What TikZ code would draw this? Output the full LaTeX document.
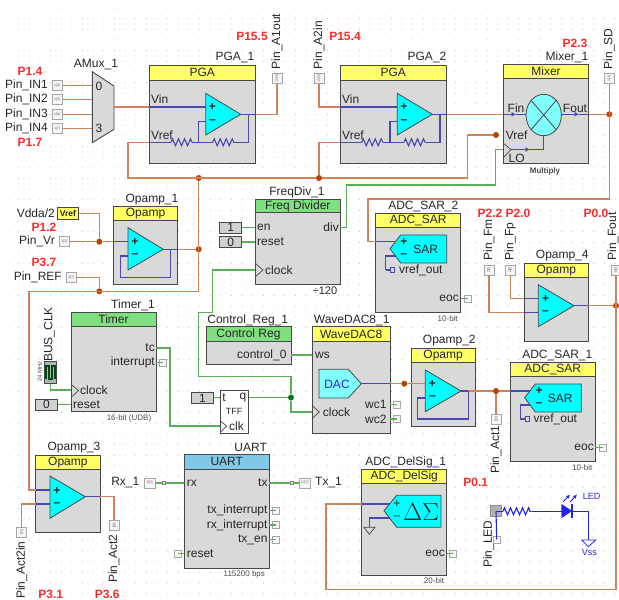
\documentclass[tikz,border=0pt]{standalone}
\usepackage{fontspec}
\setmainfont{Liberation Sans}
\usetikzlibrary{arrows.meta,decorations.pathmorphing,shapes.geometric}
\definecolor{wireorange}{HTML}{D0825A}
\definecolor{wireblue}{HTML}{4A4AAE}
\definecolor{wiregreen}{HTML}{5CAD5C}
\definecolor{bodygray}{HTML}{D9D9D9}
\definecolor{edgegray}{HTML}{484848}
\definecolor{headyellow}{HTML}{FFFF66}
\definecolor{headgreen}{HTML}{80E080}
\definecolor{headblue}{HTML}{80C8E8}
\definecolor{symcyan}{HTML}{00FFFF}
\definecolor{lightcyan}{HTML}{80FFFF}
\definecolor{pinred}{HTML}{FF2A2A}
\definecolor{dotred}{HTML}{B84000}
\definecolor{dotgreen}{HTML}{007A1E}
\definecolor{ledblue}{HTML}{2424E6}
\begin{document}
\begin{tikzpicture}[x=1pt,y=-1pt,font=\fontsize{12}{14}\selectfont,
  every node/.style={inner sep=0,text=black!85},
  wh/.style 2 args={minimum width=#1,minimum height=#2},
  body/.style={draw=edgegray,fill=bodygray,line width=1pt,outer sep=0,anchor=north west},
  yhead/.style={body,fill=headyellow},
  ghead/.style={body,fill=headgreen},
  bhead/.style={body,fill=headblue},
  owire/.style={draw=wireorange,line width=1.1pt},
  bwire/.style={draw=wireblue,line width=1.1pt},
  gwire/.style={draw=wiregreen,line width=1.1pt},
  resistor/.style={bwire,decorate,decoration={zigzag,amplitude=3.5,segment length=6}},
  sym/.style={draw=edgegray,fill=symcyan,line width=.8pt},
  clk/.style={draw=edgegray,line width=.7pt},
  jdot/.style={circle,fill=dotred,minimum size=6},
  gdot/.style={circle,fill=dotgreen,minimum size=6},
  pinbox/.style={draw=black!35,fill=black!4,line width=.7pt,minimum size=10,font=\fontsize{3.5}{4}\selectfont,text=black!60},
  ncbox/.style={draw=black!35,fill=black!3,line width=.6pt,minimum size=7},
  tick/.style={draw=black!50,fill=black!10,line width=.4pt,minimum size=3},
  logic/.style={draw=edgegray,fill=black!18,line width=1pt,wh={21.5}{11}},
  tag/.style={font=\fontsize{12}{14}\selectfont\bfseries,text=pinred},
  small/.style={font=\fontsize{8}{9}\selectfont,text=black!70},
  rot/.style={rotate=90,anchor=west},
  griddot/.style={fill=black!30}]
\useasboundingbox (0,0) rectangle (619,600);
\foreach \i in {0,...,57}
  \foreach \j in {0,...,55}
    \fill[griddot] (8+\i*10.65,8+\j*10.65) circle (.5);

\node[body,wh={106.5}{98}] (pga1) at (149,65.5) {};
\node[yhead,wh={106.5}{14.5}] (pga1h) at (149,65.5) {PGA};
\node[body,wh={106.5}{98}] (pga2) at (340,65.5) {};
\node[yhead,wh={106.5}{14.5}] (pga2h) at (340,65.5) {PGA};
\node[body,wh={85.5}{99.5}] (mix) at (503.3,64.3) {};
\node[yhead,wh={85.5}{14.5}] (mixh) at (503.3,64.3) {Mixer};
\node[body,wh={64.5}{78}] (op1) at (113.3,206.7) {};
\node[yhead,wh={64.5}{14}] (op1h) at (113.3,206.7) {Opamp};
\node[body,wh={85}{85.5}] (fd) at (255.3,199.3) {};
\node[ghead,wh={85}{13.5}] (fdh) at (255.3,199.3) {Freq Divider};
\node[body,wh={85}{99}] (sar2) at (375.7,213.3) {};
\node[yhead,wh={85}{14.5}] (sar2h) at (375.7,213.3) {ADC\_SAR};
\node[body,wh={64}{78}] (op4) at (524.3,263.3) {};
\node[yhead,wh={64}{14}] (op4h) at (524.3,263.3) {Opamp};
\node[body,wh={85}{99}] (tm) at (71,312.7) {};
\node[ghead,wh={85}{14}] (tmh) at (71,312.7) {Timer};
\node[body,wh={85}{38}] (cr) at (206,326.7) {};
\node[ghead,wh={85}{14.5}] (crh) at (206,326.7) {Control Reg};
\node[body,wh={78.3}{106.6}] (wd) at (312,326.7) {};
\node[yhead,wh={78.3}{14.6}] (wdh) at (312,326.7) {WaveDAC8};
\node[body,wh={64.3}{78}] (op2) at (411,348.3) {};
\node[yhead,wh={64.3}{14.4}] (op2h) at (411,348.3) {Opamp};
\node[body,wh={85}{99.4}] (sar1) at (510.3,362.3) {};
\node[yhead,wh={85}{14.4}] (sar1h) at (510.3,362.3) {ADC\_SAR};
\node[body,wh={64.3}{77.7}] (op3) at (35.7,455) {};
\node[yhead,wh={64.3}{14.3}] (op3h) at (35.7,455) {Opamp};
\node[body,wh={85}{113.3}] (ua) at (184.3,454.7) {};
\node[bhead,wh={85}{14.3}] (uah) at (184.3,454.7) {UART};
\node[body,wh={85}{106.3}] (ds) at (361.7,469) {};
\node[yhead,wh={85}{14}] (dsh) at (361.7,469) {ADC\_DelSig};
\node[body,fill=white,wh={28.7}{42.6}] (tff) at (220,390.7) {};

\node (pga1t) at (235,58) {PGA\_1};
\node (pga2t) at (427,58) {PGA\_2};
\node (mixt) at (567,57) {Mixer\_1};
\node (muxt) at (96,64.7) {AMux\_1};
\node (op1t) at (152,199.5) {Opamp\_1};
\node (fdt) at (297,192) {FreqDiv\_1};
\node (sar2t) at (423.3,206) {ADC\_SAR\_2};
\node (op4t) at (562.3,256) {Opamp\_4};
\node (tmt) at (133,305) {Timer\_1};
\node (crt) at (247.7,320) {Control\_Reg\_1};
\node (wdt) at (351.7,320) {WaveDAC8\_1};
\node (op2t) at (449.3,341) {Opamp\_2};
\node (sar1t) at (557.3,355) {ADC\_SAR\_1};
\node (op3t) at (74,447.3) {Opamp\_3};
\node (uat) at (250.7,447.5) {UART};
\node (dst) at (405.7,462) {ADC\_DelSig\_1};

\node[tag] (tagA) at (30,71) {P1.4};
\node[tag] (tagB) at (30,142) {P1.7};
\node[tag] (tagC) at (252,36) {P15.5};
\node[tag] (tagD) at (345,36) {P15.4};
\node[tag] (tagE) at (575,43) {P2.3};
\node[tag] (tagF) at (44,227) {P1.2};
\node[tag] (tagG) at (44,262.7) {P3.7};
\node[tag] (tagH) at (490,213) {P2.2};
\node[tag] (tagI) at (518,213) {P2.0};
\node[tag] (tagJ) at (596,213) {P0.0};
\node[tag] (tagK) at (475.7,482.7) {P0.1};
\node[tag] (tagL) at (50.7,594) {P3.1};
\node[tag] (tagM) at (107.3,594) {P3.6};

\node[pinbox] (pinINa) at (57,85.3) {1[4]};
\node[pinbox] (pinINb) at (57,99.7) {1[5]};
\node[pinbox] (pinINc) at (57,114.3) {1[6]};
\node[pinbox] (pinINd) at (57,128.3) {1[7]};
\node[anchor=east] (lblINa) at (48,85.3) {Pin\_IN1};
\node[anchor=east] (lblINb) at (48,99.7) {Pin\_IN2};
\node[anchor=east] (lblINc) at (48,114.3) {Pin\_IN3};
\node[anchor=east] (lblINd) at (48,128.3) {Pin\_IN4};
\node[pinbox,rotate=90] (pinAout) at (277,78.7) {15[5]};
\node[rot] (lblAout) at (277,69.5) {Pin\_A1out};
\node[pinbox,rotate=90] (pinAin) at (319,78.7) {15[4]};
\node[rot] (lblAin) at (319,69.5) {Pin\_A2in};
\node[pinbox,rotate=90] (pinSD) at (609.3,78.7) {2[3]};
\node[rot] (lblSD) at (609.3,69.5) {Pin\_SD};
\node[pinbox] (pinVr) at (64.3,241.7) {1[2]};
\node[anchor=east] (lblVr) at (55,241.7) {Pin\_Vr};
\node[pinbox] (pinREF) at (71,277.3) {3[7]};
\node[anchor=east] (lblREF) at (62,277.3) {Pin\_REF};
\node[draw=edgegray,fill=headyellow,line width=1pt,wh={21.5}{11.5},font=\fontsize{8.5}{9}\selectfont\bfseries] (vrefbox) at (68,213.5) {Vref};
\node[anchor=east] (lblVdda) at (55,213.5) {Vdda/2};
\node[pinbox,rotate=90] (pinFm) at (489,270) {2[2]};
\node[rot] (lblFm) at (489,260.7) {Pin\_Fm};
\node[pinbox,rotate=90] (pinFp) at (510.3,270) {2[0]};
\node[rot] (lblFp) at (510.3,260.7) {Pin\_Fp};
\node[pinbox,rotate=90] (pinFout) at (616,270) {0[0]};
\node[rot] (lblFout) at (613,260.7) {Pin\_Fout};
\node[pinbox,rotate=-90] (pinActa) at (496,419) {0[1]};
\node[rot] (lblActa) at (496,474) {Pin\_Act1};
\node[pinbox,rotate=90] (pinActb) at (21.7,532.7) {3[1]};
\node[rot] (lblActb) at (21.7,599) {Pin\_Act2in};
\node[pinbox,rotate=-90] (pinActc) at (114,525) {3[6]};
\node[rot] (lblActc) at (114,583) {Pin\_Act2};
\node[pinbox,wh={11}{10}] (pinRx) at (149.7,483) {1[0]};
\node[anchor=east] (lblRx) at (139.5,483) {Rx\_1};
\node[pinbox,wh={11}{10}] (pinTx) at (304.7,483) {12[7]};
\node[anchor=west] (lblTx) at (315,483) {Tx\_1};
\node[pinbox,fill=black!30,draw=black!45,minimum size=11] (pinLED) at (496,511.3) {};
\node[rot] (lblLED) at (488.7,568) {Pin\_LED};
\node[ncbox] (pinLEDb) at (496.7,539.3) {};

\node[logic] (oneA) at (230.7,227.6) {1};
\node[logic] (zeroA) at (230.7,242) {0};
\node[logic] (oneB) at (202.5,398) {1};
\node[logic] (zeroB) at (46.5,404.7) {0};
\node[draw=edgegray,fill=black!30,line width=1pt,wh={12.5}{21.5}] (clkbox) at (50.5,372.5) {};
\node[rot,anchor=west] (lblBus) at (49.5,362) {BUS\_CLK};
\node[rot,font=\fontsize{6}{7}\selectfont,text=black!70] (lblMHz) at (39.7,382) {24 MHz};
\draw[draw=dotgreen!60!black,line width=1.2pt] (46,379) -- (46,366) -- (49,366) -- (49,379) -- (52,379) -- (52,366) -- (55,366) -- (55,379);

\node[ncbox] (ncInt) at (163,362.3) {};
\node[ncbox] (ncEocB) at (468,298.7) {};
\node[ncbox] (ncWa) at (397,404.7) {};
\node[ncbox] (ncWb) at (397,419) {};
\node[ncbox] (ncEocA) at (602.6,447.7) {};
\node[ncbox] (ncEocC) at (453,553.7) {};
\node[ncbox] (ncTi) at (276,510.7) {};
\node[ncbox] (ncRi) at (276,525) {};
\node[ncbox] (ncTe) at (276,539.7) {};
\node[ncbox] (ncRst) at (177.7,553.7) {};

\coordinate (muxa) at (92.3,85.3);
\coordinate (muxb) at (92.3,99.7);
\coordinate (muxc) at (92.3,114.3);
\coordinate (muxd) at (92.3,128.3);
\coordinate (muxout) at (114,107);
\coordinate (pgaAvin) at (149,107);
\coordinate (pgaAp) at (205.7,107);
\coordinate (pgaAx) at (240.7,114.3);
\coordinate (pgaAo) at (255.5,114.3);
\coordinate (pgaAf) at (248.7,114.3);
\coordinate (pgaAvr) at (149,142.3);
\coordinate (pgaAra) at (171,142.3);
\coordinate (pgaArb) at (192,142.3);
\coordinate (pgaAj) at (198.3,142.3);
\coordinate (pgaArc) at (212.7,142.3);
\coordinate (pgaArd) at (234.3,142.3);
\coordinate (pgaAm) at (205.7,121.3);
\coordinate (pgaBvin) at (340,107);
\coordinate (pgaBp) at (397.3,107);
\coordinate (pgaBx) at (432.3,114.3);
\coordinate (pgaBo) at (446.7,114.3);
\coordinate (pgaBf) at (440,114.3);
\coordinate (pgaBvr) at (340,142.3);
\coordinate (pgaBra) at (361.7,142.3);
\coordinate (pgaBrb) at (382.7,142.3);
\coordinate (pgaBj) at (390,142.3);
\coordinate (pgaBrc) at (404,142.3);
\coordinate (pgaBrd) at (425.7,142.3);
\coordinate (pgaBm) at (397.3,121.3);
\coordinate (mixin) at (503.3,114.3);
\coordinate (mixfa) at (516,114.3);
\coordinate (mixfb) at (526,114.3);
\coordinate (mixout) at (588.7,114.3);
\coordinate (mixoa) at (579,114.3);
\coordinate (mixob) at (561.4,114.3);
\coordinate (mixlo) at (503.3,149.5);
\coordinate (mixla) at (511,149.5);
\coordinate (mixlb) at (530,149.5);
\coordinate (mixlc) at (543.7,149.5);
\coordinate (mixld) at (543.7,135.7);
\coordinate (busA) at (128,178);
\coordinate (busB) at (467.7,135);
\coordinate (busF) at (609.3,199);
\coordinate (busG) at (368,199);
\coordinate (sarBin) at (375.7,241.7);
\coordinate (sarBp) at (395,241.7);
\coordinate (sarBm) at (396.7,256);
\coordinate (sarBc) at (385.7,270);
\coordinate (opAin) at (113.3,241.7);
\coordinate (opAp) at (128,241.7);
\coordinate (opAx) at (163.3,249.3);
\coordinate (opAf) at (170.7,249.3);
\coordinate (opAo) at (177.7,249.3);
\coordinate (opAg) at (120.7,277.3);
\coordinate (opAm) at (128,256);
\coordinate (busH) at (198.7,291.3);
\coordinate (busI) at (29,291.3);
\coordinate (opCpin) at (35.7,490);
\coordinate (opCp) at (50,490);
\coordinate (opCmin) at (35.7,504);
\coordinate (opCm) at (50,504);
\coordinate (opCx) at (85.3,496.7);
\coordinate (opCo) at (100,496.7);
\coordinate (opDx) at (574,305.7);
\coordinate (opDo) at (588.3,305.7);
\coordinate (opDpin) at (524.3,298.7);
\coordinate (opDp) at (538.3,298.7);
\coordinate (opDmin) at (524.3,312.7);
\coordinate (opDm) at (538.3,312.7);
\coordinate (busJ) at (616,589.3);
\coordinate (busK) at (326,589.3);
\coordinate (dsin) at (361.7,504);
\coordinate (dsp) at (390,504);
\coordinate (dsm) at (390.7,518);
\coordinate (dsg) at (369.3,527.3);
\coordinate (dacout) at (361.3,383.7);
\coordinate (wdo) at (390.3,383.7);
\coordinate (opBp) at (425.3,383.7);
\coordinate (opBx) at (461,391);
\coordinate (opBf) at (468.3,391);
\coordinate (opBg) at (417.7,419);
\coordinate (opBm) at (425.3,398);
\coordinate (sarAin) at (510.3,391);
\coordinate (sarAp) at (530,391);
\coordinate (sarAm) at (531.3,405);
\coordinate (sarAc) at (520.3,419);
\coordinate (fddiv) at (340.3,227.3);
\coordinate (gA) at (346.7,185);
\coordinate (gB) at (495.7,185);
\coordinate (fden) at (255.3,227.6);
\coordinate (fdrst) at (255.3,242);
\coordinate (fdclk) at (255.3,270);
\coordinate (gC) at (212.7,312.3);
\coordinate (gD) at (198.3,376.7);
\coordinate (tffq) at (248.7,397.5);
\coordinate (tfft) at (220,397.5);
\coordinate (tffclk) at (220,426);
\coordinate (wdclk) at (312,412);
\coordinate (wdws) at (312,355);
\coordinate (crout) at (291,355);
\coordinate (tmtc) at (156,348);
\coordinate (tmint) at (156,362.3);
\coordinate (tmclk) at (71,390);
\coordinate (tmrst) at (71,404.7);
\coordinate (gE) at (170,426);
\coordinate (uarx) at (184.3,483);
\coordinate (uatx) at (269.3,483);
\coordinate (uati) at (269.3,510.7);
\coordinate (uari) at (269.3,525);
\coordinate (uate) at (269.3,539.7);
\coordinate (uarst) at (184.3,553.7);
\coordinate (sarBeoc) at (460.7,298.7);
\coordinate (sarAeoc) at (595.3,447.7);
\coordinate (dseoc) at (446.7,553.7);
\coordinate (wdwa) at (390.3,404.7);
\coordinate (wdwb) at (390.3,419);
\coordinate (lra) at (503,511.3);
\coordinate (lrb) at (531.7,511.3);
\coordinate (lda) at (561.7,511.3);
\coordinate (ldk) at (572,511.3);
\coordinate (lvss) at (588.3,540);

\node[jdot] (jA) at (198.7,178) {};
\node[jdot] (jB) at (319,178) {};
\node[jdot] (jC) at (496,135) {};
\node[jdot] (jD) at (609.3,114.3) {};
\node[jdot] (jE) at (99.3,241.7) {};
\node[jdot] (jF) at (198.7,249.3) {};
\node[jdot] (jG) at (99.3,291.3) {};
\node[jdot] (jH) at (616,305.7) {};
\node[jdot] (jI) at (404.3,383.7) {};
\node[jdot] (jJ) at (496,391) {};
\node[gdot] (jK) at (291,397.5) {};

\draw[draw=edgegray,fill=bodygray,line width=.9pt] (92.3,71.7) -- (114,86) -- (114,129.3) -- (92.3,142.7) -- cycle;
\node (muxn) at (99,86.5) {0};
\node (muxm) at (99,128) {3};

\draw[owire] (pinINa) -- (muxa);
\draw[owire] (pinINb) -- (muxb);
\draw[owire] (pinINc) -- (muxc);
\draw[owire] (pinINd) -- (muxd);
\draw[owire] (muxout) -- (pgaAvin);
\draw[owire] (pgaAo) -| (pinAout);
\draw[owire] (pgaAvr) -| (busA) -- (jB) -| (busB) -- (jC);
\draw[owire] (pinAin) |- (pgaBvin);
\draw[owire] (jB) |- (pgaBvr);
\draw[owire] (pgaBo) -- (mixin);
\draw[owire] (mixout) -- (jD);
\draw[owire] (pinSD) -- (busF) -- (busG) |- (sarBin);
\draw[owire] (pinVr) -- (jE) -- (opAin);
\draw[owire] (vrefbox) -| (jE);
\draw[owire] (opAo) -- (jF);
\draw[owire] (jA) -- (busH) -- (busI) |- (opCpin);
\draw[owire] (pinREF) -| (jG);
\draw[owire] (pinActb) |- (opCmin);
\draw[owire] (opCo) -| (pinActc);
\draw[owire] (pinFp) |- (opDpin);
\draw[owire] (pinFm) |- (opDmin);
\draw[owire] (opDo) -- (jH);
\draw[owire] (pinFout) -- (busJ) -- (busK) |- (dsin);
\draw[owire] (wdo) -- (jI) -- (opBp);
\draw[owire] (opBf) -- (jJ) -- (sarAin);
\draw[owire] (pinActa) -- (jJ);

\draw[bwire] (pgaAvin) -- (pgaAp);
\draw[bwire] (pgaAx) -- (pgaAo);
\draw[bwire] (pgaAvr) -- (pgaAra);
\draw[resistor] (pgaAra) -- (pgaArb);
\draw[bwire] (pgaArb) -- (pgaArc);
\draw[resistor] (pgaArc) -- (pgaArd);
\draw[bwire] (pgaArd) -| (pgaAf);
\draw[bwire] (pgaAj) |- (pgaAm);
\draw[bwire] (pgaBvin) -- (pgaBp);
\draw[bwire] (pgaBx) -- (pgaBo);
\draw[bwire] (pgaBvr) -- (pgaBra);
\draw[resistor] (pgaBra) -- (pgaBrb);
\draw[bwire] (pgaBrb) -- (pgaBrc);
\draw[resistor] (pgaBrc) -- (pgaBrd);
\draw[bwire] (pgaBrd) -| (pgaBf);
\draw[bwire] (pgaBj) |- (pgaBm);
\draw[bwire,-{Latex[length=4.5,width=5]}] (mixin) -- (mixfa);
\draw[bwire] (mixfa) -- (mixfb);
\draw[bwire,-{Latex[length=4.5,width=5]}] (mixob) -- (mixoa);
\draw[bwire] (mixoa) -- (mixout);
\draw[bwire,-{Latex[length=4.5,width=5]}] (mixla) -- (mixlb);
\draw[bwire] (mixlb) -- (mixlc) -- (mixld);
\draw[bwire] (sarBin) -- (sarBp);
\draw[bwire] (sarBm) -| (sarBc);
\node[draw=wireblue,line width=1pt,minimum size=4.5] (sarBv) at (392.7,270) {};
\draw[bwire] (sarBc) -- (sarBv);
\draw[bwire] (opAin) -- (opAp);
\draw[bwire] (opAx) -- (opAo);
\draw[bwire] (opAf) |- (opAg) |- (opAm);
\draw[bwire] (opCpin) -- (opCp);
\draw[bwire] (opCmin) -- (opCm);
\draw[bwire] (opCx) -- (opCo);
\draw[bwire] (opDpin) -- (opDp);
\draw[bwire] (opDmin) -- (opDm);
\draw[bwire] (opDx) -- (opDo);
\draw[bwire] (dsin) -- (dsp);
\draw[bwire] (dsm) -| (dsg);
\draw[bwire] (dacout) -- (wdo);
\draw[bwire] (opBx) -- (opBf);
\draw[bwire] (opBf) |- (opBg) |- (opBm);
\draw[bwire] (sarAin) -- (sarAp);
\draw[bwire] (sarAm) -| (sarAc);
\node[draw=wireblue,line width=1pt,minimum size=4.5] (sarAv) at (527.3,419) {};
\draw[bwire] (sarAc) -- (sarAv);

\draw[gwire] (fddiv) -| (gA) -- (gB) |- (mixlo);
\draw[gwire] (oneA) -- (fden);
\draw[gwire] (zeroA) -- (fdrst);
\draw[gwire] (fdclk) -| (gC) -| (gD) -| (jK);
\draw[gwire] (jK) |- (wdclk);
\draw[gwire] (tffq) -- (jK);
\draw[gwire] (oneB) -- (tfft);
\draw[gwire] (tmtc) -| (gE) -- (tffclk);
\draw[gwire] (crout) -- (wdws);
\draw[gwire] (clkbox) |- (tmclk);
\draw[gwire] (zeroB) -- (tmrst);
\draw[gwire] (pinRx) -- (uarx);
\draw[gwire] (uatx) -- (pinTx);
\draw[gwire] (tmint) -- (ncInt.center);
\draw[gwire] (sarBeoc) -- (ncEocB.center);
\draw[gwire] (sarAeoc) -- (ncEocA.center);
\draw[gwire] (dseoc) -- (ncEocC.center);
\draw[gwire] (wdwa) -- (ncWa.center);
\draw[gwire] (wdwb) -- (ncWb.center);
\draw[gwire] (uati) -- (ncTi.center);
\draw[gwire] (uari) -- (ncRi.center);
\draw[gwire] (uate) -- (ncTe.center);
\draw[gwire] (uarst) -- (ncRst.center);
\node[tick] (tickRx) at (164,483) {};
\node[tick] (tickTx) at (291.7,483) {};

\draw[sym] (205.7,93.3) -- (205.7,135) -- (240.7,114.3) -- cycle;
\draw[sym] (397.3,93.3) -- (397.3,135) -- (432.3,114.3) -- cycle;
\draw[sym] (128,227.7) -- (128,270) -- (163.3,249.3) -- cycle;
\draw[sym] (538.3,284.7) -- (538.3,326.7) -- (574,305.7) -- cycle;
\draw[sym] (425.3,370) -- (425.3,411.7) -- (461,391) -- cycle;
\draw[sym] (50,476) -- (50,518.3) -- (85.3,496.7) -- cycle;
\draw[sym] (390,248.7) -- (400.7,235) -- (446.7,235) -- (446.7,263) -- (400.7,263) -- cycle;
\draw[sym] (524.6,397.7) -- (535.3,384) -- (581.3,384) -- (581.3,412) -- (535.3,412) -- cycle;
\draw[sym] (384,510.7) -- (396.7,495.3) -- (441,495.3) -- (441,527.3) -- (396.7,527.3) -- cycle;
\draw[sym,fill=lightcyan] (319,369.3) -- (348.3,369.3) -- (361.3,383.7) -- (348.3,398) -- (319,398) -- cycle;
\node[draw=edgegray,fill=lightcyan,line width=.8pt,ellipse,minimum width=35.4,minimum height=41.4] (mixc) at (543.7,115) {};
\draw[draw=edgegray,line width=.8pt] (mixc.north west) -- (mixc.south east);
\draw[draw=edgegray,line width=.8pt] (mixc.north east) -- (mixc.south west);

\node (plusA) at (212.5,107) {\textbf{+}};
\node (minusA) at (212.5,121.5) {\textbf{--}};
\node (plusB) at (404,107) {\textbf{+}};
\node (minusB) at (404,121.5) {\textbf{--}};
\node (plusC) at (135,242) {\textbf{+}};
\node (minusC) at (135,256) {\textbf{--}};
\node (plusD) at (545.5,299) {\textbf{+}};
\node (minusD) at (545.5,313) {\textbf{--}};
\node (plusE) at (432.5,384) {\textbf{+}};
\node (minusE) at (432.5,398) {\textbf{--}};
\node (plusF) at (57,490.5) {\textbf{+}};
\node (minusF) at (57,504.5) {\textbf{--}};
\node (plusG) at (404,242) {\textbf{+}};
\node (minusG) at (404,256) {\textbf{--}};
\node (plusH) at (539,391) {\textbf{+}};
\node (minusH) at (539,405) {\textbf{--}};
\node (plusI) at (397,504) {+};
\node (minusI) at (397,518) {--};
\node (sarA) at (425.7,249) {SAR};
\node (sarB) at (560.3,398) {SAR};
\node (dsym) at (421,512) {\fontsize{25}{28}\selectfont$\Delta\Sigma$};
\node[text=ledblue] (dacl) at (337,384) {DAC};

\node[anchor=west] (vinA) at (151,99.5) {Vin};
\node[anchor=west] (vrefA) at (151,135) {Vref};
\node[anchor=west] (vinB) at (342,99.5) {Vin};
\node[anchor=west] (vrefB) at (342,135) {Vref};
\node (finl) at (516,108) {Fin};
\node (foutl) at (575,108) {Fout};
\node (vrefM) at (516.7,135) {Vref};
\node (lol) at (516.7,158) {LO};
\node[small,font=\fontsize{8}{9}\selectfont\bfseries] (mull) at (545,171) {Multiply};
\node[anchor=west] (enl) at (257,227.6) {en};
\node[anchor=west] (rstl) at (257,241.7) {reset};
\node[anchor=west] (clkl) at (265,270) {clock};
\node[anchor=east] (divl) at (339,227.3) {div};
\node (fdn) at (325,291) {\fontsize{11}{13}\selectfont÷120};
\node[anchor=west] (vroB) at (399,270) {vref\_out};
\node[anchor=east] (eocB) at (459,298.7) {eoc};
\node[small] (bitB) at (447.7,318.3) {10-bit};
\node[anchor=east] (tcl) at (155,348) {tc};
\node[anchor=east] (intl) at (155,362.3) {interrupt};
\node[anchor=west] (tclkl) at (80,390) {clock};
\node[anchor=west] (trstl) at (73,404.7) {reset};
\node[small] (udbl) at (129,418.3) {16-bit (UDB)};
\node[anchor=east] (ctl) at (286.7,355) {control\_0};
\node[anchor=west] (wsl) at (315,355) {ws};
\node[anchor=west] (wclkl) at (322.7,412) {clock};
\node[anchor=east] (wal) at (386.7,404.7) {wc1};
\node[anchor=east] (wbl) at (386.7,419) {wc2};
\node (tl) at (224,397.5) {t};
\node (ql) at (243,397.5) {q};
\node[font=\fontsize{9}{10}\selectfont] (tffl) at (234,411.5) {TFF};
\node[anchor=west] (clkt) at (229,426) {clk};
\node[anchor=west] (vroA) at (533.5,419) {vref\_out};
\node[anchor=east] (eocA) at (594,447.7) {eoc};
\node[small] (bitA) at (582.3,467.5) {10-bit};
\node[anchor=west] (rxl) at (186.7,483) {rx};
\node[anchor=east] (txl) at (267.7,483) {tx};
\node[anchor=east] (til) at (267.7,510.7) {tx\_interrupt};
\node[anchor=east] (ril) at (267.7,525) {rx\_interrupt};
\node[anchor=east] (tel) at (267.7,539.7) {tx\_en};
\node[anchor=west] (ursl) at (186.7,553.7) {reset};
\node[small] (baud) at (244.3,574) {115200 bps};
\node[anchor=east] (eocC) at (445,553.7) {eoc};
\node[small] (bitC) at (434,581) {20-bit};

\draw[clk] (255.3,263.3) -- (263,270) -- (255.3,276.7);
\draw[clk] (503.3,143.3) -- (511,149.5) -- (503.3,157.7);
\draw[clk] (71.7,385) -- (78.7,390.5) -- (71.7,396.7);
\draw[clk] (220,420.7) -- (226.7,426) -- (220,432.7);
\draw[clk] (312,405.3) -- (319.3,412) -- (312,418.7);
\draw[draw=edgegray,line width=.7pt] (364,527.3) -- (375,527.3) -- (369.3,534.3) -- cycle;

\draw[draw=ledblue,line width=1.1pt] (pinLED.center) -- (pinLEDb.center);
\draw[draw=ledblue,line width=1.1pt] (pinLED.center) -- (lra);
\draw[draw=ledblue,line width=1.1pt,decorate,decoration={zigzag,amplitude=3.5,segment length=6}] (lra) -- (lrb);
\draw[draw=ledblue,line width=1.1pt] (lrb) -- (lda);
\draw[draw=ledblue,fill=ledblue] (561.7,504.3) -- (561.7,517.7) -- (571.7,511) -- cycle;
\draw[draw=ledblue,line width=1.3pt] (572,504) -- (572,518);
\draw[draw=ledblue,line width=1.1pt] (ldk) -| (lvss);
\draw[draw=ledblue,line width=.8pt] (581.7,540) -- (595.7,540) -- (588.3,546.7) -- cycle;
\draw[draw=ledblue,line width=.9pt,-{Latex[length=4,width=4]}] (563,502) -- (570,494.5);
\draw[draw=ledblue,line width=.9pt,-{Latex[length=4,width=4]}] (570,502) -- (577,494.5);
\node[text=ledblue,font=\fontsize{9}{10}\selectfont] (ledl) at (591.7,496.7) {LED};
\node[text=ledblue,font=\fontsize{9}{10}\selectfont] (vssl) at (589.3,552.7) {Vss};
\end{tikzpicture}
\end{document}
